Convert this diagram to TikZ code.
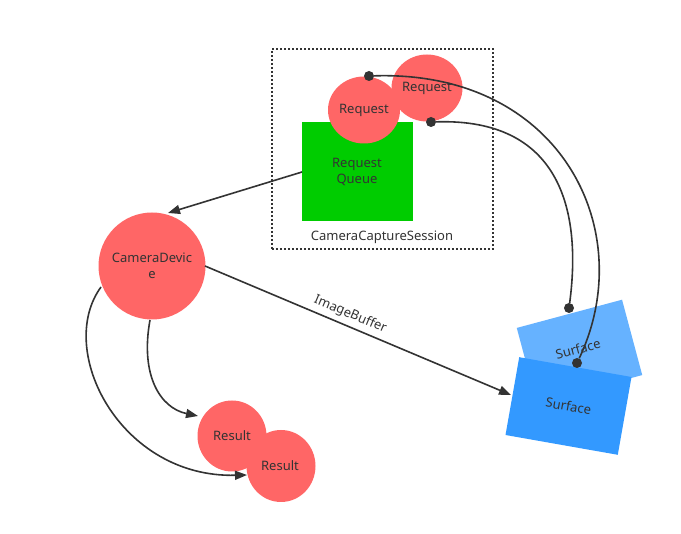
\documentclass[tikz,border=0pt]{standalone}
\usepackage{fontspec}
\setmainfont{Noto Sans}
\usetikzlibrary{arrows.meta,shapes.geometric}
\definecolor{ink}{HTML}{333333}
\definecolor{reqred}{HTML}{FF6666}
\definecolor{qgreen}{HTML}{00CC00}
\definecolor{surflight}{HTML}{66B2FF}
\definecolor{surfdark}{HTML}{3399FF}
\newcommand{\lblfont}{\fontsize{13}{15}\selectfont}
\tikzset{
  blob/.style={ellipse, fill=reqred, text=ink, inner sep=0pt, align=center, font=\lblfont},
  caption/.style={text=ink, align=center, font=\lblfont},
  surf/.style={rectangle, text=ink, inner sep=0pt, font=\lblfont},
  link/.style={draw=ink, line width=1.6pt},
  flow/.style={link, -{Triangle[length=12pt,width=9pt]}},
  pin/.style={circle, fill=ink, inner sep=0pt, minimum size=10pt},
}
\begin{document}
\begin{tikzpicture}[x=1pt,y=-1pt]
\useasboundingbox (0,0) rectangle (681,534);
\fill[white] (0,0) rectangle (681,534);

% session frame
\node[draw=ink, line width=1.7pt, dash pattern=on 1.7pt off 2.3pt, minimum width=221pt, minimum height=200pt, anchor=north west] (session) at (271,48) {};
\node[caption] (sessionlbl) at (382,237) {CameraCaptureSession};

% request queue
\node[fill=qgreen, minimum width=111pt, minimum height=99pt, inner sep=0pt, anchor=north west] (queue) at (302,122) {};
\node[caption, font=\fontsize{13}{16}\selectfont] (queuelbl) at (357,172) {Request\\Queue};

% pending requests
\node[blob, minimum width=71pt, minimum height=67pt] (reqb) at (427,88) {Request};
\node[blob, minimum width=72pt, minimum height=67pt] (reqa) at (364,110) {Request};

% camera device
\node[blob, minimum width=107pt, minimum height=107pt] (device) at (152,266) {};
\node[caption, font=\fontsize{13}{16}\selectfont] (devicelbl) at (152,266) {CameraDevic\\e};

% results
\node[blob, minimum width=69pt, minimum height=71pt] (res1) at (232,436) {Result};
\node[blob, minimum width=69pt, minimum height=72pt] (res2) at (281,466) {};
\node[caption] (res2lbl) at (280,466) {Result};

% surfaces
\node[surf, fill=surflight, minimum width=109pt, minimum height=78pt, rotate=15] (surfb) at (579.5,351.5) {};
\node[surf, fill=surfdark, minimum width=114pt, minimum height=79pt, rotate=-10] (surfa) at (568.5,406) {Surface};
\node[surf, rotate=15] (surfblbl) at (578,349) {Surface};

% connectors
\coordinate (devtip) at (168,213);
\coordinate (qstart) at (302,172);
\draw[flow] (qstart) -- (devtip);

\coordinate (imgstart) at (205,266);
\coordinate (imgend) at (511,395);
\draw[flow] (imgstart) -- node[pos=0.46, sloped, above=1pt, text=ink, font=\lblfont] (imglbl) {ImageBuffer} (imgend);

\coordinate (d1) at (150,320);
\coordinate (r1in) at (198,416);
\draw[flow] (d1) .. controls (140,375) and (160,408) .. (r1in);

\coordinate (d2) at (101,287);
\coordinate (r2in) at (247,475);
\draw[flow] (d2) .. controls (55,350) and (120,478) .. (r2in);

\node[pin] (pa) at (369,76) {};
\node[pin] (pb) at (577,363) {};
\draw[link] (pa) .. controls (560,70) and (640,230) .. (pb);

\node[pin] (pc) at (431,122) {};
\node[pin] (pd) at (569,308) {};
\draw[link] (pc) .. controls (560,118) and (582,210) .. (pd);
\end{tikzpicture}
\end{document}
